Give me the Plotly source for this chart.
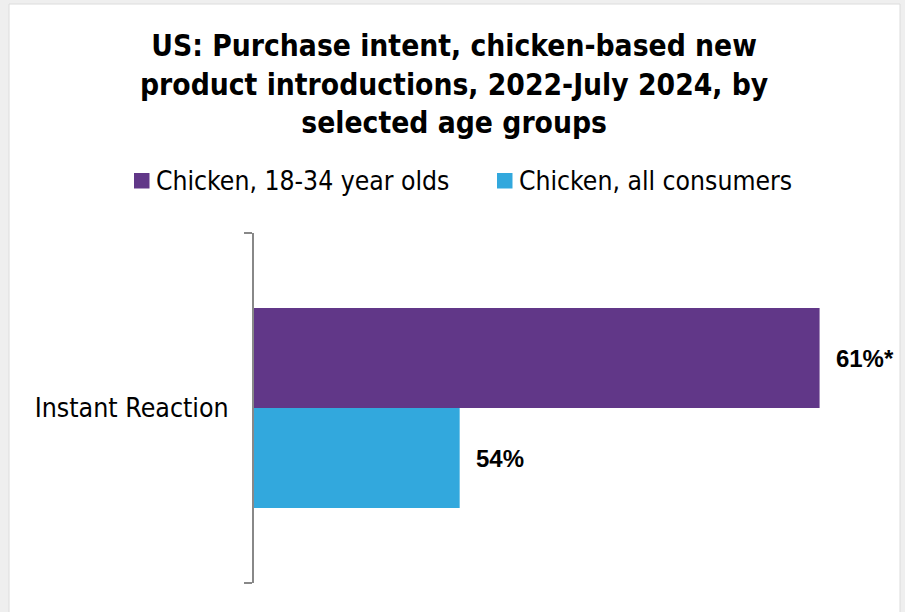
import plotly.graph_objects as go

categories = ["Instant Reaction"]
series_names = ["Chicken, 18-34 year olds", "Chicken, all consumers"]
young_values = [61]
all_values = [54]
young_labels = ["61%*"]
all_labels = ["54%"]
colors = ["#613788", "#32a8dd"]

W, H = 905, 612
L, R, T, B = 254, 871, 233, 583
FONT = "DejaVu Sans Condensed, DejaVu Sans"


def px_x(p):
    return (p - L) / (R - L)


def px_y(p):
    return (B - p) / (B - T)


fig = go.Figure()
for vals, labels, name, col in [(young_values, young_labels, series_names[0], colors[0]),
                                (all_values, all_labels, series_names[1], colors[1])]:
    fig.add_trace(go.Bar(
        y=categories, x=vals, orientation="h", name=name,
        marker=dict(color=col, line=dict(width=0)),
        text=["\u00a0\u00a0" + t for t in labels], textposition="outside",
        textfont=dict(family="Liberation Sans", size=24, color="#000000", weight="bold"),
        cliponaxis=False, showlegend=False,
    ))

# outer frame
fig.add_shape(type="rect", xref="paper", yref="paper",
              x0=px_x(9), x1=px_x(900), y0=px_y(640), y1=px_y(4),
              fillcolor="white", line=dict(color="#dcdcdc", width=1), layer="below")

# custom legend
legend_square_x = [134, 497]
legend_text_x = [154, 517]
legend_y = 180.5
for i, name in enumerate(series_names):
    fig.add_shape(type="rect", xref="paper", yref="paper",
                  x0=px_x(legend_square_x[i]), x1=px_x(legend_square_x[i] + 15.5),
                  y0=px_y(188.5), y1=px_y(173),
                  fillcolor=colors[i], line=dict(width=0))
    fig.add_annotation(text=name, xref="paper", yref="paper",
                       x=px_x(legend_text_x[i]), y=px_y(legend_y),
                       xanchor="left", yanchor="middle", showarrow=False,
                       font=dict(size=26.3, family=FONT, color="#000000"))

# title
fig.add_annotation(
    text="<b>US: Purchase intent, chicken-based new<br>product introductions, 2022-July 2024, by<br>selected age groups</b>",
    xref="paper", yref="paper", x=px_x(454), y=px_y(84),
    xanchor="center", yanchor="middle", showarrow=False, align="center",
    font=dict(size=29.7, family=FONT, color="#000000"),
)

fig.update_layout(
    width=W, height=H,
    margin=dict(l=L, r=W - R, t=T, b=H - B, pad=0),
    paper_bgcolor="#efefef", plot_bgcolor="white",
    barmode="group", bargap=0.4286, bargroupgap=0,
    font=dict(family=FONT, color="#000000"),
    showlegend=False,
    xaxis=dict(range=[50, 62], visible=False, fixedrange=True),
    yaxis=dict(
        autorange=False, range=[0.5, -0.5], type="category",
        showline=True, linecolor="#888888", linewidth=2,
        ticks="outside", tickson="boundaries", ticklen=8, tickcolor="#888888", tickwidth=2,
        tickfont=dict(size=26.5, family=FONT, color="#000000"),
        ticklabelstandoff=18, showgrid=False, zeroline=False,
    ),
)

fig.write_html("out.html", config={"displayModeBar": False},
               post_script="document.body.style.margin='0';")
